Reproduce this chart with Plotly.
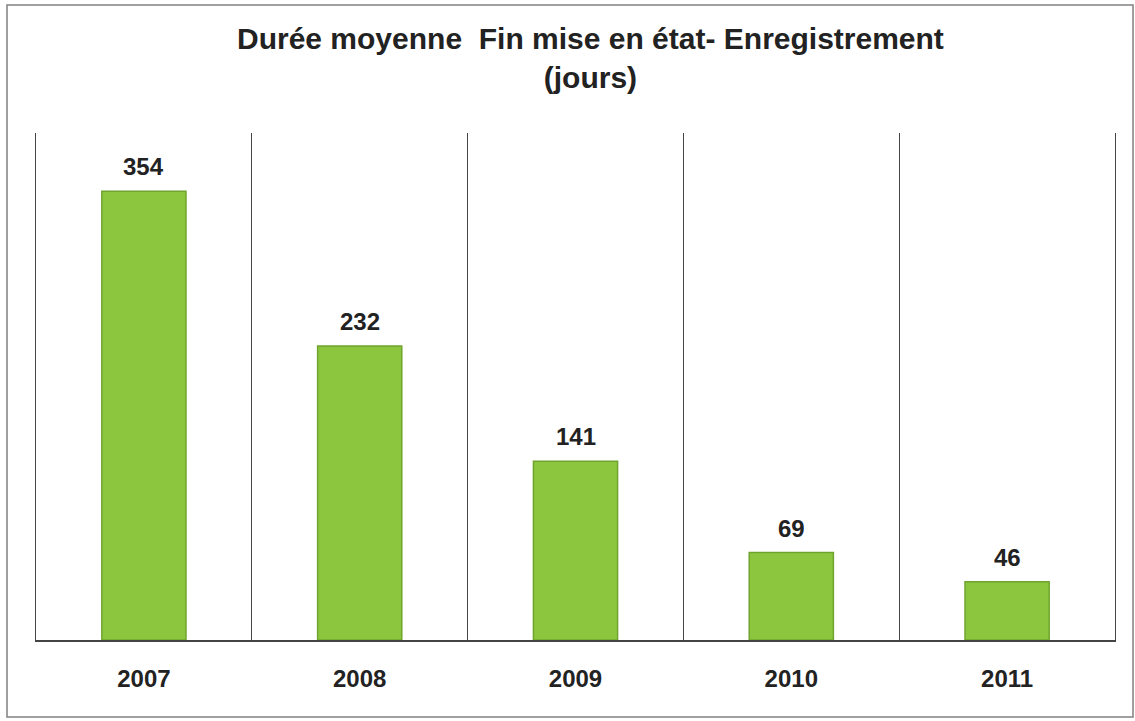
import plotly.graph_objects as go

years = ["2007", "2008", "2009", "2010", "2011"]
durations = [354, 232, 141, 69, 46]

W, H = 1135, 721
L, R, T, B = 36, 20, 133, 81
pw, ph = W - L - R, H - T - B
FONT = "Liberation Sans, Arial, sans-serif"

fig = go.Figure(go.Bar(
    x=years, y=durations,
    width=0.39,
    marker=dict(color="#8cc63e", line=dict(color="#6fa52e", width=1.5)),
    hoverinfo="x+y",
))

for i, v in enumerate(durations):
    fig.add_annotation(
        x=i, y=v, xref="x", yref="y",
        text=f"<b>{v}</b>", showarrow=False,
        yanchor="bottom", yshift=9,
        font=dict(family=FONT, size=24, color="#222222"),
    )

fig.add_annotation(
    xref="paper", yref="paper",
    x=(590 - L) / pw, y=1 + (T - 58) / ph,
    xanchor="center", yanchor="middle",
    text="<b>Durée moyenne  Fin mise en état- Enregistrement<br>(jours)</b>",
    showarrow=False, align="center",
    font=dict(size=30, color="#222222", family=FONT),
)

fig.update_layout(
    width=W, height=H,
    margin=dict(l=L, r=R, t=T, b=B),
    paper_bgcolor="white", plot_bgcolor="white",
    showlegend=False,
    font=dict(family=FONT, color="#222222"),
    xaxis=dict(
        type="category", tickson="boundaries", range=[-0.5, len(years) - 0.5],
        showgrid=True, gridcolor="#444444", gridwidth=1,
        showline=True, linecolor="#444444", linewidth=1.5,
        ticks="", tickfont=dict(size=24, family=FONT, color="#222222"),
        tickprefix="<b>", ticksuffix="</b>",
        ticklabelstandoff=16,
    ),
    yaxis=dict(range=[0, 400], showgrid=False, showticklabels=False,
               zeroline=False, showline=True, mirror=True,
               linecolor="#444444", linewidth=1),
    shapes=[dict(
        type="rect", xref="paper", yref="paper",
        x0=-(L - 7) / pw, x1=1 + (R - 2) / pw,
        y0=-(B - 4) / ph, y1=1 + (T - 5) / ph,
        line=dict(color="#808080", width=1.5), fillcolor="rgba(0,0,0,0)",
        layer="below",
    )],
)

fig.write_html("out.html", config={"displayModeBar": False},
               post_script="document.body.style.margin='0px';")
